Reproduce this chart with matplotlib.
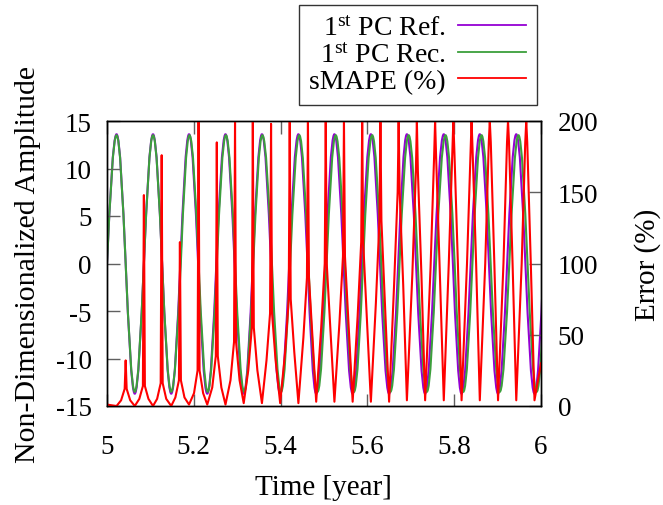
import matplotlib
matplotlib.use("Agg")
import matplotlib.pyplot as plt
from matplotlib.path import Path
from matplotlib.patches import PathPatch
from matplotlib.lines import Line2D

plt.rcParams['font.family'] = ['Liberation Serif', 'DejaVu Serif']
plt.rcParams['mathtext.fontset'] = 'custom'
plt.rcParams['mathtext.rm'] = 'Liberation Serif'
plt.rcParams['mathtext.it'] = 'Liberation Serif:italic'
plt.rcParams['mathtext.bf'] = 'Liberation Serif:bold'
plt.rcParams['axes.unicode_minus'] = False

# ---------------- data ----------------
# 1st PC reference: zero crossings, peaks and troughs (time in years)
ref_zero_t = [5.000, 5.043, 5.085, 5.127, 5.169, 5.210, 5.252, 5.294, 5.336,
              5.378, 5.420, 5.462, 5.503, 5.545, 5.587, 5.629, 5.671, 5.712,
              5.754, 5.797, 5.838, 5.880, 5.922, 5.964, 6.006]
ref_peak_t = [5.022, 5.106, 5.189, 5.273, 5.357, 5.441, 5.524, 5.608, 5.691,
              5.776, 5.859, 5.943]
ref_trough_t = [5.064, 5.148, 5.231, 5.315, 5.399, 5.482, 5.566, 5.650, 5.733,
                5.817, 5.901, 5.985]
ref_peak_v = [13.6, 13.6, 13.6, 13.6, 13.6, 13.6, 13.6, 13.6, 13.6, 13.6, 13.6, 13.6]
ref_trough_v = [-13.7, -13.7, -13.7, -13.7, -13.7, -13.7, -13.7, -13.7, -13.7,
                -13.7, -13.7, -13.7]

# 1st PC reconstruction (slowly lagging behind the reference)
rec_zero_t = [5.000, 5.043, 5.085, 5.127, 5.170, 5.211, 5.253, 5.295, 5.337,
              5.380, 5.422, 5.464, 5.506, 5.548, 5.590, 5.632, 5.674, 5.716,
              5.758, 5.801, 5.842, 5.884, 5.927, 5.969, 6.011]
rec_peak_t = [5.022, 5.106, 5.190, 5.274, 5.358, 5.443, 5.527, 5.611, 5.695,
              5.780, 5.863, 5.948]
rec_trough_t = [5.064, 5.148, 5.232, 5.316, 5.401, 5.485, 5.569, 5.653, 5.737,
                5.821, 5.905, 5.990]
rec_peak_v = [13.5, 13.5, 13.5, 13.5, 13.5, 13.5, 13.5, 13.5, 13.5, 13.5, 13.5, 13.5]
rec_trough_v = [-13.5, -13.5, -13.5, -13.5, -13.5, -13.5, -13.5, -13.5, -13.5,
                -13.5, -13.5, -13.5]

# sMAPE (%): spikes at the zero crossings, low values at the extremes
smape_cross_t = [5.043, 5.085, 5.126, 5.168, 5.211, 5.253, 5.295, 5.336, 5.378,
                 5.421, 5.463, 5.504, 5.546, 5.588, 5.630, 5.672, 5.714, 5.756,
                 5.798, 5.840, 5.882, 5.924, 5.966]
smape_spike = [32, 148, 176, 115, 200, 185, 200, 200, 198, 200, 200, 200, 200,
               200, 200, 200, 200, 200, 200, 200, 200, 200, 200]
smape_shoulder = [12, 14, 16, 18, 25, 35, 45, 55, 65, 75, 90, 100, 105, 115,
                  130, 150, 165, 175, 180, 180, 185, 185, 185]
smape_mid = [4, 5, 5, 6, 9, 13, 18, 25, 32, 38, 48, 55, 58, 63, 72, 85, 92, 97,
             100, 100, 100, 100, 100]
smape_base_t = [5.000, 5.022, 5.064, 5.106, 5.148, 5.189, 5.231, 5.273, 5.315,
                5.357, 5.399, 5.441, 5.482, 5.524, 5.566, 5.608, 5.650, 5.691,
                5.733, 5.776, 5.817, 5.859, 5.901, 5.943, 5.985, 6.000]
smape_base_v = [1, 0, 0, 0, 0, 1, 1, 1, 2, 2, 2, 2, 3, 3, 3, 3, 3, 4, 4, 4, 4,
                4, 4, 4, 4, 30]
# time offsets (years) from a crossing at which shoulder / mid values were read
D_SH = 0.0023
D_MID = 0.0105

x_ticks = [5.0, 5.2, 5.4, 5.6, 5.8, 6.0]
x_tick_labels = ['5', '5.2', '5.4', '5.6', '5.8', '6']
y_ticks = [-15, -10, -5, 0, 5, 10, 15]
y2_ticks = [0, 50, 100, 150, 200]

labels = ['1$^{\\rm st}$ PC Ref.', '1$^{\\rm st}$ PC Rec.', 'sMAPE (%)']
colors = ['#9400d3', '#3c9f3c', '#ff0000']


def key_points(zero_t, peak_t, trough_t, peak_v, trough_v):
    t, v = [], []
    for i in range(len(peak_t)):
        t += [zero_t[2 * i], peak_t[i], zero_t[2 * i + 1], trough_t[i]]
        v += [0.0, peak_v[i], 0.0, trough_v[i]]
    t.append(zero_t[-1])
    v.append(0.0)
    return t, v


def wave_path(t, v):
    """Cubic Bezier quarter-wave segments through the key points."""
    verts = [(t[0], v[0])]
    codes = [Path.MOVETO]
    for k in range(len(t) - 1):
        t0, v0, t1, v1 = t[k], v[k], t[k + 1], v[k + 1]
        dt, dv = t1 - t0, v1 - v0
        if v0 == 0:
            c1 = (t0 + 0.326 * dt, v0 + 0.512 * dv)
            c2 = (t0 + 0.638 * dt, v1)
        else:
            c1 = (t0 + 0.362 * dt, v0)
            c2 = (t0 + 0.674 * dt, v0 + 0.488 * dv)
        verts += [c1, c2, (t1, v1)]
        codes += [Path.CURVE4] * 3
    return Path(verts, codes)


pts = list(zip(smape_base_t, smape_base_v))
for c, h, s, m in zip(smape_cross_t, smape_spike, smape_shoulder, smape_mid):
    pts += [(c - D_MID, m), (c - D_SH, s), (c, h), (c + D_SH, s), (c + D_MID, m)]
pts.sort()
smape_t = [p[0] for p in pts]
smape_v = [p[1] for p in pts]

# ---------------- figure ----------------
fig = plt.figure(figsize=(6.63, 5.06), dpi=100)
ax = fig.add_axes([107 / 663, 1 - 407 / 506, 434 / 663, 285 / 506])
ax2 = ax.twinx()

rt, rv = key_points(ref_zero_t, ref_peak_t, ref_trough_t, ref_peak_v, ref_trough_v)
ct, cv = key_points(rec_zero_t, rec_peak_t, rec_trough_t, rec_peak_v, rec_trough_v)
ax.add_patch(PathPatch(wave_path(rt, rv), fill=False, edgecolor=colors[0], lw=1.5))
ax.add_patch(PathPatch(wave_path(ct, cv), fill=False, edgecolor=colors[1], lw=1.5))
ax2.plot(smape_t, smape_v, color=colors[2], lw=1.5)

ax.set_xlim(5, 6)
ax.set_ylim(-15, 15)
ax2.set_ylim(0, 200)
ax.set_xticks(x_ticks)
ax.set_xticklabels(x_tick_labels)
ax.set_yticks(y_ticks)
ax2.set_yticks(y2_ticks)

tick_kw = dict(direction='in', length=9, width=1.0, color='#606060', labelsize=19.5)
ax.tick_params(axis='x', top=True, bottom=True, pad=20, **tick_kw)
ax.tick_params(axis='y', left=True, right=False, pad=11, **tick_kw)
ax2.tick_params(axis='y', right=True, pad=12, **tick_kw)
for a in (ax, ax2):
    for sp in a.spines.values():
        sp.set_linewidth(1.0)
        sp.set_color('black')

ax.set_xlabel('Time [year]', fontsize=21)
ax.xaxis.label.set_va('center')
ax.xaxis.set_label_coords(0.498, -0.284)
ax.set_ylabel('Non-Dimensionalized Amplitude', fontsize=21.5)
ax.yaxis.label.set_va('center')
ax.yaxis.set_label_coords(-0.182, 0.5)
ax2.set_ylabel('Error (%)', fontsize=21, rotation=90)
ax2.yaxis.label.set_va('center')
ax2.yaxis.set_label_coords(1.2465, 0.5)

handles = [Line2D([], [], color=c, lw=1.3) for c in colors]
leg = fig.legend(handles, labels, loc='upper right',
                 bbox_to_anchor=(537 / 663, 1 - 6 / 506),
                 fontsize=20, markerfirst=False, frameon=True,
                 fancybox=False, framealpha=1, edgecolor='#333333',
                 handlelength=2.45, handletextpad=0.45, labelspacing=0.04,
                 borderpad=0.38, borderaxespad=0)
leg.get_frame().set_linewidth(1.0)

fig.savefig('out.png', dpi=100)
